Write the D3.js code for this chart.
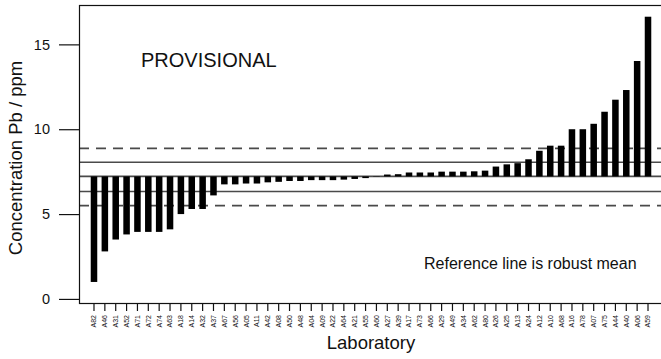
<!DOCTYPE html>
<html>
<head>
<meta charset="utf-8">
<script src="https://cdn.jsdelivr.net/npm/d3@7"></script>
<style>
  html, body { margin: 0; padding: 0; background: #fff; }
  svg { display: block; font-family: "Liberation Sans", Arial, Helvetica, sans-serif; }
</style>
</head>
<body>
<svg id="chart" width="661" height="359"></svg>
<script>
// Laboratories, ordered by reported result
const labs = ["A82","A46","A31","A52","A71","A72","A74","A63","A18","A14","A32","A37",
  "A67","A56","A05","A11","A42","A08","A50","A48","A04","A09","A22","A64","A21","A55",
  "A60","A27","A39","A17","A73","A66","A29","A49","A34","A62","A80","A26","A25","A13",
  "A24","A12","A10","A68","A16","A78","A07","A75","A44","A40","A06","A59"];

// Reported Pb concentration (ppm)
const values = [1.0, 2.8, 3.5, 3.8, 3.95, 3.95, 3.95, 4.1, 5.0, 5.3, 5.3, 6.1,
  6.75, 6.75, 6.8, 6.8, 6.87, 6.9, 6.95, 6.95, 7.0, 7.0, 7.0, 7.03, 7.07, 7.12,
  7.2, 7.33, 7.35, 7.45, 7.45, 7.45, 7.5, 7.5, 7.5, 7.52, 7.56, 7.8, 7.93, 8.0,
  8.23, 8.73, 9.03, 9.03, 10.0, 10.0, 10.32, 11.03, 11.74, 12.31, 14.02, 16.63];

// Robust mean and the bands around it
const refValue = 7.22;
const innerBand = [6.33, 8.05];
const outerBand = [5.50, 8.87];

const yTicks = [0, 5, 10, 15];
const yLim = [-0.24, 17.32];

(function draw() {
  const svg = d3.select("#chart");
  const pLeft = 79, pRight = 663, pTop = 5, pBottom = 303;

  const x = d3.scaleBand().domain(labs).range([pLeft, pRight])
    .paddingInner(0.4).paddingOuter(1.08);
  const y = d3.scaleLinear().domain(yLim).range([pBottom, pTop]);

  const lineColor = "#4a4a4a";
  const plot = svg.append("g");

  // Reference lines
  plot.selectAll("line.band")
    .data(innerBand.concat([refValue]))
    .join("line")
    .attr("class", "band")
    .attr("x1", pLeft).attr("x2", pRight)
    .attr("y1", d => y(d)).attr("y2", d => y(d))
    .attr("stroke", lineColor).attr("stroke-width", 1.6);

  plot.selectAll("line.outer")
    .data(outerBand)
    .join("line")
    .attr("class", "outer")
    .attr("x1", pLeft).attr("x2", pRight)
    .attr("y1", d => y(d)).attr("y2", d => y(d))
    .attr("stroke", lineColor).attr("stroke-width", 1.6)
    .attr("stroke-dasharray", "10,7");

  plot.selectAll("rect.bar")
    .data(values)
    .join("rect")
    .attr("class", "bar")
    .attr("x", (d, i) => x(labs[i]))
    .attr("width", x.bandwidth())
    .attr("y", d => Math.min(y(d), y(refValue)))
    .attr("height", d => Math.abs(y(d) - y(refValue)))
    .attr("fill", "#000");

  // Plot frame
  svg.append("rect")
    .attr("x", pLeft + 0.5).attr("y", pTop + 0.5)
    .attr("width", pRight - pLeft).attr("height", pBottom - pTop)
    .attr("fill", "none").attr("stroke", "#111").attr("stroke-width", 1.2);

  // Y axis
  const yAxis = d3.axisLeft(y).tickValues(yTicks).tickSize(20).tickPadding(9);
  const gy = svg.append("g").attr("transform", `translate(${pLeft},0)`).call(yAxis);
  gy.select(".domain").remove();
  gy.selectAll(".tick line").attr("stroke", "#111").attr("stroke-width", 1.2);
  gy.selectAll(".tick text").attr("font-size", "14.5px").attr("fill", "#111")
    .attr("font-family", "Liberation Sans, Arial, sans-serif");

  // X axis
  const xAxis = d3.axisBottom(x).tickSize(8).tickPadding(4);
  const gx = svg.append("g").attr("transform", `translate(0,${pBottom})`).call(xAxis);
  gx.select(".domain").remove();
  gx.selectAll(".tick line").attr("stroke", "#111").attr("stroke-width", 1.2);
  gx.selectAll(".tick text")
    .attr("font-size", "7px").attr("fill", "#111")
    .attr("font-family", "Liberation Sans, Arial, sans-serif")
    .attr("text-anchor", "end")
    .attr("transform", "rotate(-90)")
    .attr("x", -12).attr("y", 0).attr("dy", "0.35em");

  // Titles and notes
  svg.append("text")
    .attr("x", (pLeft + pRight) / 2).attr("y", 349)
    .attr("text-anchor", "middle").attr("font-size", "18.5px").attr("fill", "#111")
    .text("Laboratory");

  svg.append("text")
    .attr("transform", "translate(22,158) rotate(-90)")
    .attr("text-anchor", "middle").attr("font-size", "18.5px").attr("fill", "#111")
    .text("Concentration Pb / ppm");

  svg.append("text")
    .attr("x", 141).attr("y", 67)
    .attr("font-size", "20px").attr("fill", "#111")
    .text("PROVISIONAL");

  svg.append("text")
    .attr("x", 424).attr("y", 269)
    .attr("font-size", "16px").attr("fill", "#111")
    .text("Reference line is robust mean");
})();
</script>
</body>
</html>
